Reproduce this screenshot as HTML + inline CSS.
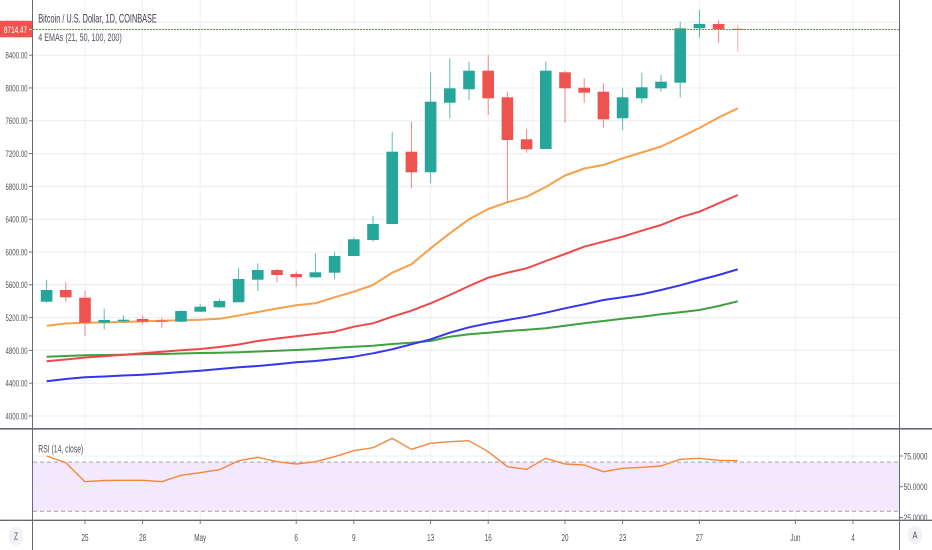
<!DOCTYPE html>
<html><head><meta charset="utf-8"><style>
html,body{margin:0;padding:0;background:#fff;}
svg{display:block;}
text{font-family:"Liberation Sans",sans-serif;}
</style></head><body>
<svg width="932" height="550" viewBox="0 0 932 550" xmlns="http://www.w3.org/2000/svg">
<defs>
<clipPath id="rsiclip"><rect x="0" y="430" width="932" height="89.5"/></clipPath>
<clipPath id="mainclip"><rect x="33" y="0" width="866" height="428"/></clipPath>
</defs>
<rect width="932" height="550" fill="#fff"/>

<!-- RSI band fill -->
<rect x="33" y="462.1" width="866" height="49.2" fill="#f4e8fe"/>

<!-- vertical gridlines -->
<g stroke="#eef0f4" stroke-width="1">
<line x1="85" y1="0" x2="85" y2="520"/>
<line x1="142.6" y1="0" x2="142.6" y2="520"/>
<line x1="200.2" y1="0" x2="200.2" y2="520"/>
<line x1="296.2" y1="0" x2="296.2" y2="520"/>
<line x1="353.8" y1="0" x2="353.8" y2="520"/>
<line x1="430.6" y1="0" x2="430.6" y2="520"/>
<line x1="488.2" y1="0" x2="488.2" y2="520"/>
<line x1="565" y1="0" x2="565" y2="520"/>
<line x1="622.6" y1="0" x2="622.6" y2="520"/>
<line x1="699.4" y1="0" x2="699.4" y2="520"/>
<line x1="795.4" y1="0" x2="795.4" y2="520"/>
<line x1="853" y1="0" x2="853" y2="520"/>
</g>
<!-- horizontal gridlines -->
<g stroke="#e9ecf1" stroke-width="1">
<line x1="33" y1="22.4" x2="899" y2="22.4"/>
<line x1="33" y1="55.2" x2="899" y2="55.2"/>
<line x1="33" y1="88" x2="899" y2="88"/>
<line x1="33" y1="120.8" x2="899" y2="120.8"/>
<line x1="33" y1="153.6" x2="899" y2="153.6"/>
<line x1="33" y1="186.4" x2="899" y2="186.4"/>
<line x1="33" y1="219.2" x2="899" y2="219.2"/>
<line x1="33" y1="252" x2="899" y2="252"/>
<line x1="33" y1="284.8" x2="899" y2="284.8"/>
<line x1="33" y1="317.6" x2="899" y2="317.6"/>
<line x1="33" y1="350.4" x2="899" y2="350.4"/>
<line x1="33" y1="383.2" x2="899" y2="383.2"/>
<line x1="33" y1="416" x2="899" y2="416"/>
<line x1="33" y1="456" x2="899" y2="456"/>
<line x1="33" y1="486.7" x2="899" y2="486.7"/>
</g>
<!-- RSI dashed bands -->
<g stroke="#a0a0a8" stroke-width="1" stroke-dasharray="4,3">
<line x1="33" y1="462.1" x2="899" y2="462.1"/>
<line x1="33" y1="511.3" x2="899" y2="511.3"/>
</g>

<!-- EMAs -->
<g fill="none" stroke-width="2" stroke-linejoin="round" clip-path="url(#mainclip)">
<polyline stroke="#3fa03f" points="46.6,356.7 65.8,356 85,355.3 104.2,355 123.4,354.7 142.6,354.3 161.8,354 181,353.5 200.2,353 219.4,352.7 238.6,352.3 257.8,351.5 277,350.7 296.2,350 315.4,349 334.6,347.7 353.8,346.7 373,345.7 392.2,344 411.4,342.7 430.6,341 449.8,336.7 469,334.3 488.2,332.7 507.4,331 526.6,329.7 545.8,328.3 565,325.7 584.2,323.3 603.4,321 622.6,318.7 641.8,316.7 661,314.3 680.2,312.3 699.4,310 718.6,306 737.8,301.3"/>
<polyline stroke="#3535ee" points="46.6,381.3 65.8,379 85,377.3 104.2,376.5 123.4,375.5 142.6,374.7 161.8,373.5 181,372 200.2,370.7 219.4,369 238.6,367.3 257.8,366 277,364.3 296.2,362.2 315.4,361 334.6,359 353.8,356.7 373,353.3 392.2,349.3 411.4,344.3 430.6,339.3 449.8,332.7 469,327.3 488.2,323.3 507.4,320 526.6,316.7 545.8,312.7 565,308.3 584.2,304.3 603.4,300 622.6,297.3 641.8,294.3 661,290 680.2,285.3 699.4,280 718.6,275 737.8,269.3"/>
<polyline stroke="#f04848" points="46.6,361.3 65.8,359.5 85,357.5 104.2,356.3 123.4,354.8 142.6,353.3 161.8,351.7 181,350.3 200.2,349 219.4,347 238.6,344.5 257.8,341 277,338.5 296.2,336.3 315.4,334 334.6,331.7 353.8,326.7 373,323.3 392.2,316.7 411.4,310.7 430.6,303.3 449.8,295 469,286 488.2,277.7 507.4,272.7 526.6,268.3 545.8,261 565,254 584.2,246.7 603.4,241.7 622.6,236.7 641.8,230.7 661,225 680.2,217.3 699.4,211.7 718.6,203.3 737.8,195"/>
<polyline stroke="#f7a04a" points="46.6,325.7 65.8,323.5 85,322.8 104.2,322.4 123.4,322 142.6,321.3 161.8,320.8 181,320.3 200.2,319.8 219.4,318.8 238.6,315.5 257.8,312 277,308.5 296.2,305.3 315.4,303.3 334.6,297.3 353.8,291.7 373,285 392.2,272.7 411.4,264.3 430.6,248.3 449.8,233.3 469,219.3 488.2,209 507.4,202.3 526.6,196.7 545.8,187 565,175.5 584.2,168.5 603.4,165 622.6,158.3 641.8,152.5 661,146.5 680.2,137.5 699.4,128 718.6,117.5 737.8,108.3"/>
</g>

<!-- candles -->
<g stroke-width="1">
<g stroke="#26a69a" stroke-opacity="0.75">
<line x1="46.6" y1="280" x2="46.6" y2="302.7"/>
<line x1="104.2" y1="308.7" x2="104.2" y2="329.3"/>
<line x1="123.4" y1="315.3" x2="123.4" y2="322.7"/>
<line x1="181" y1="310" x2="181" y2="322.3"/>
<line x1="200.2" y1="304" x2="200.2" y2="312"/>
<line x1="219.4" y1="299" x2="219.4" y2="308"/>
<line x1="238.6" y1="267.7" x2="238.6" y2="302.3"/>
<line x1="257.8" y1="263.3" x2="257.8" y2="291"/>
<line x1="315.4" y1="253.3" x2="315.4" y2="277.7"/>
<line x1="334.6" y1="251.7" x2="334.6" y2="279.3"/>
<line x1="353.8" y1="237.3" x2="353.8" y2="256"/>
<line x1="373" y1="216" x2="373" y2="241.7"/>
<line x1="392.2" y1="131.7" x2="392.2" y2="224"/>
<line x1="430.6" y1="72.3" x2="430.6" y2="183.3"/>
<line x1="449.8" y1="58.3" x2="449.8" y2="118.3"/>
<line x1="469" y1="61.7" x2="469" y2="100"/>
<line x1="545.8" y1="61.7" x2="545.8" y2="149"/>
<line x1="622.6" y1="88.3" x2="622.6" y2="130"/>
<line x1="641.8" y1="72.7" x2="641.8" y2="103.3"/>
<line x1="661" y1="75" x2="661" y2="91.7"/>
<line x1="680.2" y1="21.7" x2="680.2" y2="97.3"/>
<line x1="699.4" y1="10" x2="699.4" y2="37.7"/>
</g>
<g stroke="#ef5350" stroke-opacity="0.7">
<line x1="65.8" y1="282.3" x2="65.8" y2="301.7"/>
<line x1="85" y1="291" x2="85" y2="336"/>
<line x1="142.6" y1="315.3" x2="142.6" y2="324.3"/>
<line x1="161.8" y1="317.7" x2="161.8" y2="327.7"/>
<line x1="277" y1="269" x2="277" y2="282.3"/>
<line x1="296.2" y1="271.3" x2="296.2" y2="286.7"/>
<line x1="411.4" y1="121.7" x2="411.4" y2="188.3"/>
<line x1="488.2" y1="55" x2="488.2" y2="115"/>
<line x1="507.4" y1="91.7" x2="507.4" y2="202.7"/>
<line x1="526.6" y1="129.3" x2="526.6" y2="152.7"/>
<line x1="565" y1="70.7" x2="565" y2="122.7"/>
<line x1="584.2" y1="78.3" x2="584.2" y2="102.7"/>
<line x1="603.4" y1="83.3" x2="603.4" y2="127.7"/>
<line x1="718.6" y1="20" x2="718.6" y2="42.7"/>
<line x1="737.8" y1="25" x2="737.8" y2="51.7" stroke-opacity="0.5"/>
</g>
</g>
<g fill="#26a69a">
<rect x="40.8" y="290" width="11.6" height="11.7"/>
<rect x="98.4" y="320" width="11.6" height="2.7"/>
<rect x="117.6" y="319.7" width="11.6" height="1.5"/>
<rect x="175.2" y="311" width="11.6" height="10.7"/>
<rect x="194.4" y="306.7" width="11.6" height="5"/>
<rect x="213.6" y="301" width="11.6" height="6.3"/>
<rect x="232.8" y="279" width="11.6" height="23.3"/>
<rect x="252" y="270" width="11.6" height="9.7"/>
<rect x="309.6" y="272.3" width="11.6" height="5"/>
<rect x="328.8" y="256" width="11.6" height="16.7"/>
<rect x="348" y="239.3" width="11.6" height="16.7"/>
<rect x="367.2" y="224" width="11.6" height="16"/>
<rect x="386.4" y="151.7" width="11.6" height="72.3"/>
<rect x="424.8" y="101.7" width="11.6" height="70.6"/>
<rect x="444" y="88.3" width="11.6" height="14.4"/>
<rect x="463.2" y="70.7" width="11.6" height="18.6"/>
<rect x="540" y="70.7" width="11.6" height="78.3"/>
<rect x="616.8" y="97.3" width="11.6" height="21"/>
<rect x="636" y="87.3" width="11.6" height="11"/>
<rect x="655.2" y="81.7" width="11.6" height="6.6"/>
<rect x="674.4" y="28.3" width="11.6" height="54.4"/>
<rect x="693.6" y="24" width="11.6" height="4.3"/>
</g>
<g fill="#ef5350">
<rect x="60" y="290" width="11.6" height="7.3"/>
<rect x="79.2" y="297.7" width="11.6" height="25"/>
<rect x="136.8" y="319" width="11.6" height="2.7"/>
<rect x="156" y="320.5" width="11.6" height="1.2"/>
<rect x="271.2" y="270" width="11.6" height="5"/>
<rect x="290.4" y="274" width="11.6" height="3.3"/>
<rect x="405.6" y="151.7" width="11.6" height="20.6"/>
<rect x="482.4" y="70.7" width="11.6" height="27.6"/>
<rect x="501.6" y="97.3" width="11.6" height="42.7"/>
<rect x="520.8" y="139.3" width="11.6" height="10"/>
<rect x="559.2" y="72.3" width="11.6" height="16"/>
<rect x="578.4" y="87.7" width="11.6" height="5"/>
<rect x="597.6" y="91.7" width="11.6" height="27.6"/>
<rect x="712.8" y="24" width="11.6" height="5.3"/>
<rect x="732" y="28.8" width="11.6" height="1.2"/>
</g>

<!-- price line -->
<line x1="33" y1="29.5" x2="899" y2="29.5" stroke="#ef5350" stroke-width="1" stroke-dasharray="2,1" shape-rendering="crispEdges"/>

<!-- RSI line -->
<polyline fill="none" stroke="#f5873a" stroke-width="1.4" stroke-linejoin="round" points="46.6,456 65.8,462.7 85,481.7 104.2,480.5 123.4,480.3 142.6,480.3 161.8,481.7 181,475.3 200.2,472.7 219.4,469.7 238.6,460.7 257.8,457.3 277,461.7 296.2,464 315.4,461.7 334.6,456.7 353.8,450.7 373,447.7 392.2,438.3 411.4,449.3 430.6,443.3 449.8,441.7 469,440.7 488.2,451.7 507.4,466.7 526.6,469.3 545.8,458.3 565,464 584.2,465 603.4,471.7 622.6,468.3 641.8,467.3 661,466 680.2,459.3 699.4,458.3 718.6,460.3 737.8,460.7"/>

<!-- frame lines -->
<g stroke="#666a72">
<line x1="32.5" y1="0" x2="32.5" y2="550" stroke-width="1"/>
<line x1="899.5" y1="0" x2="899.5" y2="550" stroke-width="1"/>
<line x1="0" y1="428.8" x2="932" y2="428.8" stroke-width="1.6"/>
<line x1="0" y1="520.3" x2="932" y2="520.3" stroke-width="1.4"/>
</g>
<!-- axis ticks -->
<g stroke="#777" stroke-width="1">
<line x1="29" y1="55.2" x2="32" y2="55.2"/>
<line x1="29" y1="88" x2="32" y2="88"/>
<line x1="29" y1="120.8" x2="32" y2="120.8"/>
<line x1="29" y1="153.6" x2="32" y2="153.6"/>
<line x1="29" y1="186.4" x2="32" y2="186.4"/>
<line x1="29" y1="219.2" x2="32" y2="219.2"/>
<line x1="29" y1="252" x2="32" y2="252"/>
<line x1="29" y1="284.8" x2="32" y2="284.8"/>
<line x1="29" y1="317.6" x2="32" y2="317.6"/>
<line x1="29" y1="350.4" x2="32" y2="350.4"/>
<line x1="29" y1="383.2" x2="32" y2="383.2"/>
<line x1="29" y1="416" x2="32" y2="416"/>
<line x1="900" y1="456" x2="903" y2="456"/>
<line x1="900" y1="486.7" x2="903" y2="486.7"/>
<line x1="900" y1="517.5" x2="903" y2="517.5"/>
<line x1="85" y1="521" x2="85" y2="524"/>
<line x1="142.6" y1="521" x2="142.6" y2="524"/>
<line x1="200.2" y1="521" x2="200.2" y2="524"/>
<line x1="296.2" y1="521" x2="296.2" y2="524"/>
<line x1="353.8" y1="521" x2="353.8" y2="524"/>
<line x1="430.6" y1="521" x2="430.6" y2="524"/>
<line x1="488.2" y1="521" x2="488.2" y2="524"/>
<line x1="565" y1="521" x2="565" y2="524"/>
<line x1="622.6" y1="521" x2="622.6" y2="524"/>
<line x1="699.4" y1="521" x2="699.4" y2="524"/>
<line x1="795.4" y1="521" x2="795.4" y2="524"/>
<line x1="853" y1="521" x2="853" y2="524"/>
</g>

<!-- price axis labels -->
<g font-size="9.5" fill="#4c4f58" text-anchor="end">
<text x="27.5" y="27" textLength="22" lengthAdjust="spacingAndGlyphs" fill="#8a8d95">8800.00</text>
<text x="27.5" y="58.6" textLength="22" lengthAdjust="spacingAndGlyphs">8400.00</text>
<text x="27.5" y="91.4" textLength="22" lengthAdjust="spacingAndGlyphs">8000.00</text>
<text x="27.5" y="124.2" textLength="22" lengthAdjust="spacingAndGlyphs">7600.00</text>
<text x="27.5" y="157" textLength="22" lengthAdjust="spacingAndGlyphs">7200.00</text>
<text x="27.5" y="189.8" textLength="22" lengthAdjust="spacingAndGlyphs">6800.00</text>
<text x="27.5" y="222.6" textLength="22" lengthAdjust="spacingAndGlyphs">6400.00</text>
<text x="27.5" y="255.4" textLength="22" lengthAdjust="spacingAndGlyphs">6000.00</text>
<text x="27.5" y="288.2" textLength="22" lengthAdjust="spacingAndGlyphs">5600.00</text>
<text x="27.5" y="321" textLength="22" lengthAdjust="spacingAndGlyphs">5200.00</text>
<text x="27.5" y="353.8" textLength="22" lengthAdjust="spacingAndGlyphs">4800.00</text>
<text x="27.5" y="386.6" textLength="22" lengthAdjust="spacingAndGlyphs">4400.00</text>
<text x="27.5" y="419.4" textLength="22" lengthAdjust="spacingAndGlyphs">4000.00</text>
</g>
<!-- current price box -->
<rect x="0" y="20.8" width="32" height="16.5" fill="#ef5350"/>
<line x1="29" y1="29.5" x2="32" y2="29.5" stroke="#fff" stroke-width="1"/>
<text x="15.5" y="32.8" font-size="9.5" fill="#fff" text-anchor="middle" textLength="23" lengthAdjust="spacingAndGlyphs">8714.47</text>

<!-- RSI axis labels -->
<g font-size="9.5" fill="#4c4f58" clip-path="url(#rsiclip)">
<text x="903.5" y="459.4" textLength="24" lengthAdjust="spacingAndGlyphs">75.0000</text>
<text x="903.5" y="490.1" textLength="24" lengthAdjust="spacingAndGlyphs">50.0000</text>
<text x="903.5" y="520.9" textLength="24" lengthAdjust="spacingAndGlyphs">25.0000</text>
</g>

<!-- headers -->
<text x="38.3" y="22.5" font-size="12" fill="#3a3d45" textLength="118.5" lengthAdjust="spacingAndGlyphs">Bitcoin / U.S. Dollar, 1D, COINBASE</text>
<text x="38.3" y="41" font-size="11" fill="#50535e" textLength="83.5" lengthAdjust="spacingAndGlyphs">4 EMAs (21, 50, 100, 200)</text>
<text x="38.3" y="452.3" font-size="11" fill="#50535e" textLength="45" lengthAdjust="spacingAndGlyphs">RSI (14, close)</text>

<!-- time axis labels -->
<g font-size="10.5" fill="#4c4f58" text-anchor="middle">
<text x="85" y="541" textLength="7" lengthAdjust="spacingAndGlyphs">25</text>
<text x="142.6" y="541" textLength="7" lengthAdjust="spacingAndGlyphs">28</text>
<text x="200.2" y="541" textLength="12" lengthAdjust="spacingAndGlyphs">May</text>
<text x="296.2" y="541" textLength="3.6" lengthAdjust="spacingAndGlyphs">6</text>
<text x="353.8" y="541" textLength="3.6" lengthAdjust="spacingAndGlyphs">9</text>
<text x="430.6" y="541" textLength="7" lengthAdjust="spacingAndGlyphs">13</text>
<text x="488.2" y="541" textLength="7" lengthAdjust="spacingAndGlyphs">16</text>
<text x="565" y="541" textLength="7" lengthAdjust="spacingAndGlyphs">20</text>
<text x="622.6" y="541" textLength="7" lengthAdjust="spacingAndGlyphs">23</text>
<text x="699.4" y="541" textLength="7" lengthAdjust="spacingAndGlyphs">27</text>
<text x="795.4" y="541" textLength="10" lengthAdjust="spacingAndGlyphs">Jun</text>
<text x="853" y="541" textLength="3.6" lengthAdjust="spacingAndGlyphs">4</text>
</g>

<!-- corner buttons -->
<rect x="9" y="527" width="14" height="18" rx="7" fill="#f0f2f6"/>
<text x="16" y="539.5" font-size="10" fill="#50535e" text-anchor="middle" textLength="4" lengthAdjust="spacingAndGlyphs">Z</text>
<rect x="908" y="526" width="14" height="18" rx="7" fill="#f0f2f6"/>
<text x="915" y="538.5" font-size="10" fill="#50535e" text-anchor="middle" textLength="5" lengthAdjust="spacingAndGlyphs">A</text>
</svg>
</body></html>
